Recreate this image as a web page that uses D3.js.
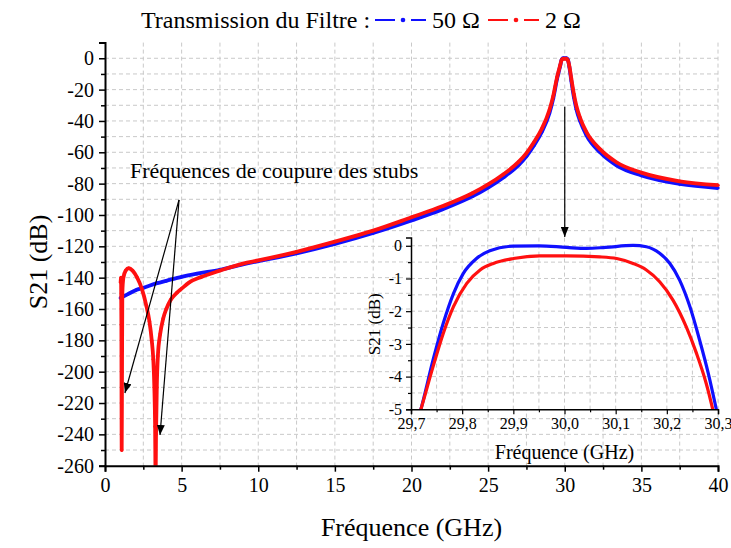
<!DOCTYPE html>
<html><head><meta charset="utf-8">
<script src="https://cdn.jsdelivr.net/npm/d3@7"></script>
<style>
body{margin:0;background:#fff}
svg{display:block}
text{font-family:"Liberation Serif","Times New Roman",serif;fill:#000}
</style>
</head><body>
<svg id="chart" width="731" height="548"></svg>
<script>
// ---------- data ----------
const mainFreq50 = [1.0,1.5,2,2.5,3.4,4,5,6,7.5,9,10,12.5,15,17.5,20,22,24,25,26,27,27.5,28,28.5,29,29.25,29.5,29.7,29.8,29.9,30.1,30.2,30.3,30.43,30.6,30.76,31,31.41,32.3,33.4,35,37.5,40];
const mainS21_50 = [-153,-150.5,-148,-146.5,-143.5,-142,-139.5,-137.5,-135,-131.5,-129.5,-124.5,-118.5,-111.5,-103.5,-96.5,-88,-82.5,-76,-68,-62.5,-55.5,-47,-35,-25.5,-13,-5,-0.8,0,0,-0.8,-5.5,-14.5,-25,-32.5,-40,-49,-60,-68.5,-74.8,-80.2,-82.8];

const mainFreq2 = [1.02,1.05,1.07,1.09,1.11,1.13,1.2,1.35,1.55,1.8,2.1,2.4,2.7,2.9,3.05,3.15,3.22,3.27,3.3,3.33,3.38,3.45,3.6,3.8,4.0,4.3,4.7,5,5.5,6.3,7.5,9,10,12.5,15,17.5,20,22,24,25,26,27,27.5,28,28.5,29,29.25,29.5,29.7,29.8,29.9,30.1,30.2,30.3,30.43,30.6,30.76,31,31.41,32.3,33.4,35,37.5,40];
const mainS21_2 = [-143,-140,-170,-250,-200,-150,-140,-135.5,-134,-135.5,-140,-147,-158,-168,-180,-192,-210,-235,-268,-240,-210,-190,-176,-166,-160,-154,-149.5,-147,-143,-139.5,-135.5,-131,-129,-123.5,-117,-110,-101.5,-94.5,-86,-80.5,-74,-66,-60.5,-53.5,-45,-33,-24,-12,-4.5,-1,-0.3,-0.3,-1.2,-5,-13,-23,-30.5,-38,-47,-58,-66.5,-73,-78.5,-81];

const insetFreq50 = [29.7,29.719,29.744,29.763,29.783,29.802,29.828,29.854,29.9,29.95,30.004,30.043,30.08,30.134,30.16,30.186,30.206,30.225,30.245,30.264,30.281,30.297,30.31];
const insetS21_50 = [-6,-5.02,-3.44,-2.37,-1.46,-0.85,-0.39,-0.15,-0.01,0,-0.05,-0.08,-0.05,0.01,-0.03,-0.23,-0.54,-1.05,-1.86,-2.88,-3.9,-5.02,-6];

const insetFreq2 = [29.7,29.719,29.744,29.763,29.783,29.809,29.835,29.861,29.9,29.952,30.004,30.069,30.102,30.134,30.16,30.186,30.212,30.238,30.258,30.277,30.29,30.31];
const insetS21_2 = [-6,-5.02,-3.65,-2.68,-1.86,-1.15,-0.74,-0.54,-0.39,-0.31,-0.31,-0.34,-0.39,-0.54,-0.74,-1.1,-1.66,-2.48,-3.29,-4.21,-5.02,-6.5];

const xTickValues = [0,5,10,15,20,25,30,35,40];
const yTickValues = [0,-20,-40,-60,-80,-100,-120,-140,-160,-180,-200,-220,-240,-260];
const insetXTickValues = [29.7,29.8,29.9,30.0,30.1,30.2,30.3];
const insetYTickValues = [0,-1,-2,-3,-4,-5];

const legendLabels = ["50 Ω","2 Ω"];
const seriesColors = ["#1010ff","#ff1010"];

// ---------- scales ----------
const svg = d3.select("#chart");
const x = d3.scaleLinear().domain([0,40]).range([105,718]);
const y = d3.scaleLinear().domain([-260,10]).range([465.7,42.6]);
const ix = d3.scaleLinear().domain([29.7,30.3]).range([411,718]);
const iy = d3.scaleLinear().domain([-5,0.25]).range([409.3,237.6]);

const serif = "Liberation Serif, Times New Roman, serif";
const gridStyle = s => s.attr("stroke","#c9c9c9").attr("stroke-width",1).attr("stroke-dasharray","4,3").attr("fill","none");

// ---------- main grid ----------
const gMainGrid = svg.append("g");
d3.range(2.5,40.01,2.5).forEach(v=>{
  gMainGrid.append("line").attr("x1",x(v)).attr("x2",x(v)).attr("y1",y(10)).attr("y2",y(-260)).call(gridStyle);
});
d3.range(-250,0.01,10).forEach(v=>{
  gMainGrid.append("line").attr("x1",x(0)).attr("x2",x(40)).attr("y1",y(v)).attr("y2",y(v)).call(gridStyle);
});

// clip + markers
const defs = svg.append("defs");
defs.append("clipPath").attr("id","mainClip").append("rect")
  .attr("x",x(0)).attr("y",y(10)).attr("width",x(40)-x(0)+4).attr("height",y(-260)-y(10));
defs.append("clipPath").attr("id","insetClip").append("rect")
  .attr("x",ix(29.7)).attr("y",iy(0.25)).attr("width",ix(30.3)-ix(29.7)).attr("height",iy(-5)-iy(0.25));
defs.append("marker").attr("id","arrow").attr("markerUnits","userSpaceOnUse")
  .attr("markerWidth",11).attr("markerHeight",8).attr("refX",10).attr("refY",4).attr("orient","auto")
  .append("path").attr("d","M0,0 L10,4 L0,8 Z").attr("fill","#000");

// ---------- main curves ----------
const mainLine = d3.line().x(d=>x(d[0])).y(d=>y(d[1])).curve(d3.curveMonotoneX);
const gMain = svg.append("g").attr("clip-path","url(#mainClip)");
const main50 = d3.zip(mainFreq50, mainS21_50);
const main2 = d3.zip(mainFreq2, mainS21_2);
[[main50,seriesColors[0]],[main2,seriesColors[1]]].forEach(([data,col])=>{
  gMain.append("path").datum(data).attr("d",mainLine).attr("fill","none")
    .attr("stroke",col).attr("stroke-width",3.8).attr("stroke-linejoin","round");
  gMain.selectAll(null).data(data).enter().append("circle")
    .attr("cx",d=>x(d[0])).attr("cy",d=>y(d[1])).attr("r",1.7).attr("fill",col);
});

// ---------- main axes ----------
const fmtPlain = d => String(d);
const xAxis = svg.append("g").attr("transform",`translate(0,${y(-260)})`)
  .call(d3.axisBottom(x).tickValues(xTickValues).tickFormat(fmtPlain).tickSize(6).tickPadding(6));
const xMinor = svg.append("g").attr("transform",`translate(0,${y(-260)})`)
  .call(d3.axisBottom(x).tickValues(d3.range(2.5,40,5)).tickFormat("").tickSize(4));
const yAxis = svg.append("g").attr("transform",`translate(${x(0)},0)`)
  .call(d3.axisLeft(y).tickValues(yTickValues).tickFormat(fmtPlain).tickSize(6).tickPadding(5));
const yMinor = svg.append("g").attr("transform",`translate(${x(0)},0)`)
  .call(d3.axisLeft(y).tickValues(d3.range(-250,10,20).concat([10])).tickFormat("").tickSize(4));
[xAxis,xMinor,yAxis,yMinor].forEach(g=>{
  g.attr("font-family",serif).attr("font-size",20);
  g.select(".domain").attr("stroke","#000").attr("stroke-width",2);
  g.selectAll(".tick line").attr("stroke","#000").attr("stroke-width",1.5);
  g.selectAll(".tick text").attr("font-family",serif).attr("font-size",20).attr("fill","#000");
});
xMinor.select(".domain").remove(); yMinor.select(".domain").remove();

svg.append("text").attr("x",(x(0)+x(40))/2).attr("y",536).attr("text-anchor","middle")
  .attr("font-size",26).text("Fréquence (GHz)");
svg.append("text").attr("transform",`translate(47,${y(-130)}) rotate(-90)`).attr("text-anchor","middle")
  .attr("font-size",26).text("S21 (dB)");

// ---------- inset ----------
const gInset = svg.append("g");
gInset.append("rect").attr("x",ix(29.7)).attr("y",iy(0.25)).attr("width",ix(30.3)-ix(29.7)).attr("height",iy(-5)-iy(0.25)).attr("fill","#fff");
d3.range(29.75,30.301,0.05).forEach(v=>{
  gInset.append("line").attr("x1",ix(v)).attr("x2",ix(v)).attr("y1",iy(0.25)).attr("y2",iy(-5)).call(gridStyle);
});
d3.range(-4.5,0.01,0.5).forEach(v=>{
  gInset.append("line").attr("x1",ix(29.7)).attr("x2",ix(30.3)).attr("y1",iy(v)).attr("y2",iy(v)).call(gridStyle);
});
const insetLine = d3.line().x(d=>ix(d[0])).y(d=>iy(d[1])).curve(d3.curveMonotoneX);
const gInsetCurves = gInset.append("g").attr("clip-path","url(#insetClip)");
[[d3.zip(insetFreq50,insetS21_50),seriesColors[0]],[d3.zip(insetFreq2,insetS21_2),seriesColors[1]]].forEach(([data,col])=>{
  gInsetCurves.append("path").datum(data).attr("d",insetLine).attr("fill","none")
    .attr("stroke",col).attr("stroke-width",3.2).attr("stroke-linejoin","round");
});
const fmtComma = d => d3.format(".1f")(d).replace(".",",");
const ixAxis = gInset.append("g").attr("transform",`translate(0,${iy(-5)})`)
  .call(d3.axisBottom(ix).tickValues(insetXTickValues).tickFormat(fmtComma).tickSize(5).tickPadding(3));
const ixMinor = gInset.append("g").attr("transform",`translate(0,${iy(-5)})`)
  .call(d3.axisBottom(ix).tickValues(d3.range(29.75,30.3,0.1)).tickFormat("").tickSize(3));
const iyAxis = gInset.append("g").attr("transform",`translate(${ix(29.7)},0)`)
  .call(d3.axisLeft(iy).tickValues(insetYTickValues).tickFormat(fmtPlain).tickSize(5).tickPadding(4));
const iyMinor = gInset.append("g").attr("transform",`translate(${ix(29.7)},0)`)
  .call(d3.axisLeft(iy).tickValues(d3.range(-4.5,0.3,1)).tickFormat("").tickSize(3));
[ixAxis,ixMinor,iyAxis,iyMinor].forEach(g=>{
  g.attr("font-family",serif).attr("font-size",16);
  g.select(".domain").attr("stroke","#000").attr("stroke-width",1.5);
  g.selectAll(".tick line").attr("stroke","#000").attr("stroke-width",1.2);
  g.selectAll(".tick text").attr("font-family",serif).attr("font-size",16).attr("fill","#000");
});
ixMinor.select(".domain").remove(); iyMinor.select(".domain").remove();
gInset.append("text").attr("x",ix(30.0)).attr("y",459).attr("text-anchor","middle")
  .attr("font-size",20).text("Fréquence (GHz)");
gInset.append("text").attr("transform",`translate(380,${iy(-2.4)}) rotate(-90)`).attr("text-anchor","middle")
  .attr("font-size",17).text("S21 (dB)");

// ---------- annotations ----------
svg.append("text").attr("x",x(1.63)).attr("y",y(-76.4)).attr("font-size",22).text("Fréquences de coupure des stubs");
const arrowStart = [4.83,-90.4];
[[1.3,-213.6],[3.59,-240.4]].forEach(e=>{
  svg.append("line").attr("x1",x(arrowStart[0])).attr("y1",y(arrowStart[1])).attr("x2",x(e[0])).attr("y2",y(e[1]))
    .attr("stroke","#000").attr("stroke-width",1.2).attr("marker-end","url(#arrow)");
});
svg.append("line").attr("x1",x(30.0)).attr("y1",y(-31)).attr("x2",x(30.0)).attr("y2",y(-114))
  .attr("stroke","#000").attr("stroke-width",1.2).attr("marker-end","url(#arrow)");

// ---------- legend ----------
const gLeg = svg.append("g");
gLeg.append("text").attr("x",141).attr("y",28).attr("font-size",24).text("Transmission du Filtre :");
const legStarts = [375,488];
legendLabels.forEach((lab,i)=>{
  const x0 = legStarts[i];
  gLeg.append("line").attr("x1",x0).attr("x2",x0+20).attr("y1",20).attr("y2",20).attr("stroke",seriesColors[i]).attr("stroke-width",2);
  gLeg.append("line").attr("x1",x0+36).attr("x2",x0+51).attr("y1",20).attr("y2",20).attr("stroke",seriesColors[i]).attr("stroke-width",2);
  gLeg.append("circle").attr("cx",x0+28).attr("cy",20).attr("r",2.3).attr("fill",seriesColors[i]);
  gLeg.append("text").attr("x",x0+57).attr("y",28).attr("font-size",24).text(lab);
});
</script>
</body></html>
